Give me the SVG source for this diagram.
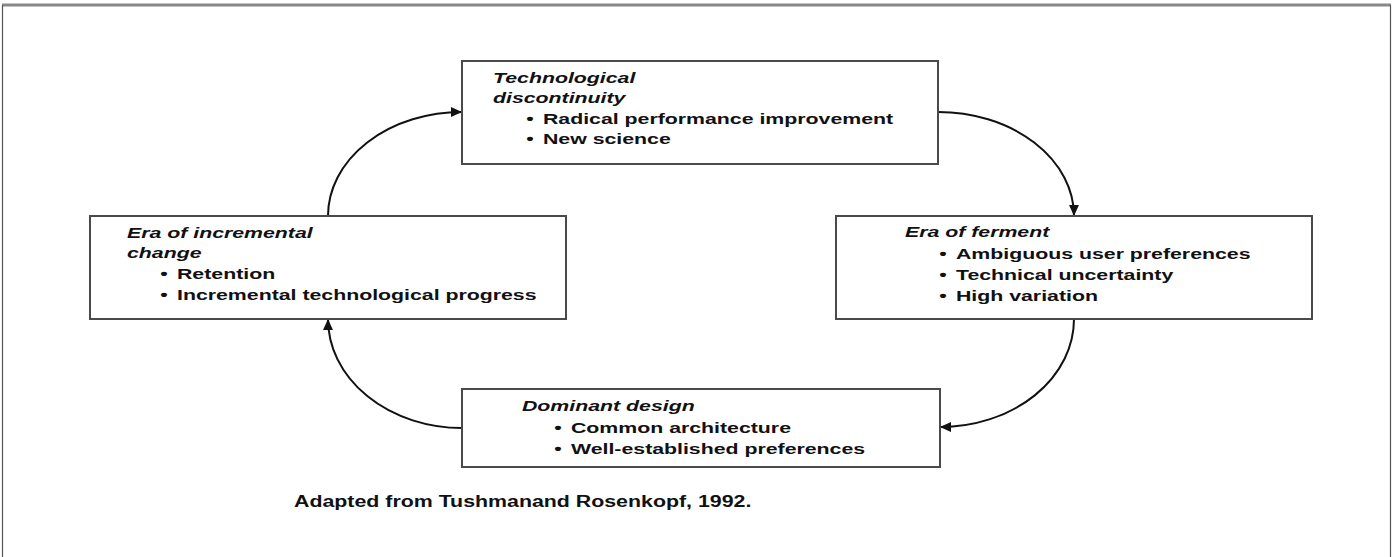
<svg xmlns="http://www.w3.org/2000/svg" width="1393" height="557" viewBox="0 0 1393 557">
  <style>
    .frame { fill: none; stroke: #555; stroke-width: 1.2; }
    .frame-top { stroke: #888; stroke-width: 3; }
    .box { fill: #fff; stroke: #4a4a4a; stroke-width: 2; }
    .link { fill: none; stroke: #111; stroke-width: 2; }
    .t { font-family: "Liberation Sans", Arial, sans-serif; font-weight: bold; font-size: 15px; fill: #111; }
    .h { font-style: italic; }
    .cap { font-size: 16px; }
  </style>
  <defs>
    <marker id="arrow" viewBox="0 0 10 10" refX="10" refY="5" markerWidth="11" markerHeight="11" markerUnits="userSpaceOnUse" orient="auto">
      <path d="M0,0.5 L10,5 L0,9.5 Z" fill="#111"/>
    </marker>
  </defs>

  <rect width="1393" height="557" fill="#fff"/>

  <!-- page frame -->
  <g id="frame">
    <line class="frame frame-top" x1="2" y1="5" x2="1391" y2="5"/>
    <line class="frame" x1="2.5" y1="5" x2="2.5" y2="557"/>
    <line class="frame" x1="1390.5" y1="5" x2="1390.5" y2="557"/>
  </g>

  <!-- cycle connectors -->
  <g id="connectors">
    <path class="link" d="M328,216 A134,104 0 0 1 462,112" marker-end="url(#arrow)"/>
    <path class="link" d="M938,112 A136,104 0 0 1 1074,216" marker-end="url(#arrow)"/>
    <path class="link" d="M1074,319 A134,108 0 0 1 940,427" marker-end="url(#arrow)"/>
    <path class="link" d="M462,428 A134,109 0 0 1 328,319" marker-end="url(#arrow)"/>
  </g>

  <g id="node-discontinuity">
    <rect class="box" x="462" y="61" width="476" height="103"/>
    <text class="t h" transform="translate(493 83) scale(1.42 1)">Technological</text>
    <text class="t h" transform="translate(493 103) scale(1.42 1)">discontinuity</text>
    <text class="t" text-anchor="middle" transform="translate(530 124) scale(1.42 1)">•</text>
    <text class="t" transform="translate(543 124) scale(1.42 1)">Radical performance improvement</text>
    <text class="t" text-anchor="middle" transform="translate(530 144) scale(1.42 1)">•</text>
    <text class="t" transform="translate(543 144) scale(1.42 1)">New science</text>
  </g>

  <g id="node-ferment">
    <rect class="box" x="836" y="216" width="476" height="103"/>
    <text class="t h" transform="translate(905 237) scale(1.42 1)">Era of ferment</text>
    <text class="t" text-anchor="middle" transform="translate(943 259) scale(1.42 1)">•</text>
    <text class="t" transform="translate(956 259) scale(1.42 1)">Ambiguous user preferences</text>
    <text class="t" text-anchor="middle" transform="translate(943 280) scale(1.42 1)">•</text>
    <text class="t" transform="translate(956 280) scale(1.42 1)">Technical uncertainty</text>
    <text class="t" text-anchor="middle" transform="translate(943 301) scale(1.42 1)">•</text>
    <text class="t" transform="translate(956 301) scale(1.42 1)">High variation</text>
  </g>

  <g id="node-dominant">
    <rect class="box" x="462" y="389" width="478" height="78"/>
    <text class="t h" transform="translate(522 411) scale(1.42 1)">Dominant design</text>
    <text class="t" text-anchor="middle" transform="translate(558 433) scale(1.42 1)">•</text>
    <text class="t" transform="translate(571 433) scale(1.42 1)">Common architecture</text>
    <text class="t" text-anchor="middle" transform="translate(558 454) scale(1.42 1)">•</text>
    <text class="t" transform="translate(571 454) scale(1.42 1)">Well-established preferences</text>
  </g>

  <g id="node-incremental">
    <rect class="box" x="90" y="216" width="476" height="103"/>
    <text class="t h" transform="translate(127 238) scale(1.42 1)">Era of incremental</text>
    <text class="t h" transform="translate(127 258) scale(1.42 1)">change</text>
    <text class="t" text-anchor="middle" transform="translate(164 279) scale(1.42 1)">•</text>
    <text class="t" transform="translate(177 279) scale(1.42 1)">Retention</text>
    <text class="t" text-anchor="middle" transform="translate(164 300) scale(1.42 1)">•</text>
    <text class="t" transform="translate(177 300) scale(1.42 1)">Incremental technological progress</text>
  </g>

  <g id="caption">
    <text class="t cap" transform="translate(294 507) scale(1.334 1)">Adapted from Tushmanand Rosenkopf, 1992.</text>
  </g>
</svg>
